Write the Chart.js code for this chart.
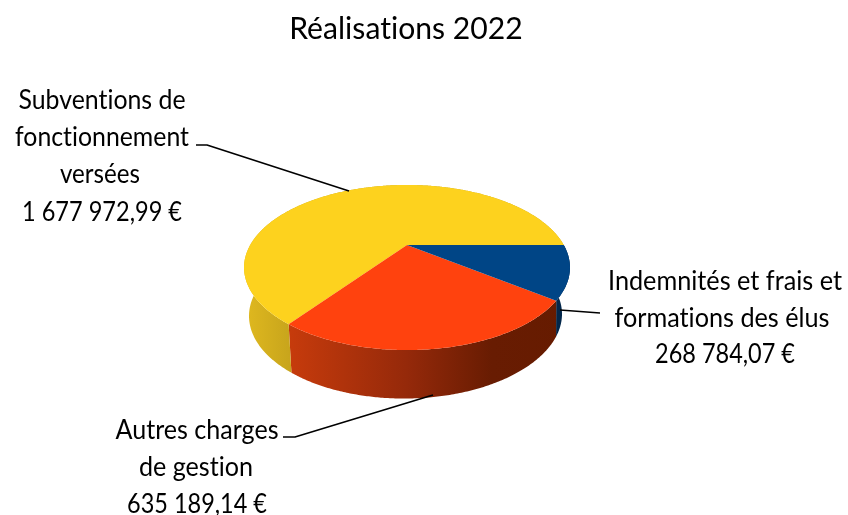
<!DOCTYPE html>
<html lang="fr">
<head>
<meta charset="utf-8">
<title>Réalisations 2022</title>
<script src="https://cdn.jsdelivr.net/npm/chart.js@4"></script>
<style>html,body{margin:0;padding:0;background:#fff}canvas{display:block}</style>
</head>
<body>
<canvas id="c" width="848" height="515"></canvas>
<script>
const titleText = "Réalisations 2022";
const categories = ["Indemnités et frais et formations des élus", "Autres charges de gestion", "Subventions de fonctionnement versées"];
const values = [268784.07, 635189.14, 1677972.99];
const labelLines = [
  ["Indemnités et frais et", "formations des élus", "268 784,07 €"],
  ["Autres charges", "de gestion", "635 189,14 €"],
  ["Subventions de", "fonctionnement", "versées", "1 677 972,99 €"]
];
const topColors = ["#004586", "#ff420e", "#fdd21e"];

// layout only
const labelLayout = [
  [[725, 290, 234], [722, 327, 215], [725, 363, 140]],
  [[197, 439, 163], [196, 476, 114], [197, 513, 140]],
  [[102, 109, 167], [102, 146, 174], [100, 183, 80], [102, 221, 160]]
];
const leaders = [
  [[560, 310], [600, 313]],
  [[283, 437], [295, 437], [433, 395]],
  [[196, 145], [207, 145], [349, 191]]
];
const FONT = 'Lato, "Open Sans", sans-serif';
const P = {ax: 407, ay: 245, A: 156.8, B: 76.4, k: 0.2727, depth: 48.5, sx: 0.951, dx: -3, warp: 0.18, bulge: 4};

function project(angle, bottom) {
  // Chart.js angle: 0 = right, clockwise, y down
  const right = Math.max(0, Math.cos(angle));
  const a = bottom ? angle - P.warp * right : angle;
  const u = Math.cos(a), v = Math.sin(a);
  const d = 1 - P.k * v;
  return [P.ax + (bottom ? P.dx + P.bulge * right * right * right : 0) + (bottom ? P.sx : 1) * P.A * u / d,
          P.ay + P.B * v / d + (bottom ? P.depth : 0)];
}
function wallFill(ctx, i) {
  const g = ctx.createLinearGradient(244, 0, 570, 0);
  if (i === 0) { g.addColorStop(0, "#02274b"); g.addColorStop(1, "#02274b"); }
  if (i === 1) {
    g.addColorStop(0.12, "#c93c0c"); g.addColorStop(0.5, "#95290a");
    g.addColorStop(0.76, "#681c02"); g.addColorStop(1, "#661b00");
  }
  if (i === 2) { g.addColorStop(0, "#e0b91f"); g.addColorStop(0.14, "#c8a51c"); g.addColorStop(1, "#c8a51c"); }
  return g;
}
const pie3d = {
  id: "pie3d",
  beforeDraw(chart) {
    // title sits on layer 0, drawn right after this hook
    const ctx = chart.ctx;
    ctx.save();
    ctx.textRendering = "optimizeSpeed";
    ctx.translate(406, 0);
    ctx.scale(0.972, 1);
    ctx.translate(-424, 0);
  },
  beforeDatasetsDraw(chart) {
    const ctx = chart.ctx, arcs = chart.getDatasetMeta(0).data;
    ctx.restore();
    const STEP = Math.PI / 360;
    ctx.save();
    arcs.forEach((arc, i) => {
      const a0 = arc.startAngle, a1 = arc.endAngle, top = [], bot = [];
      for (let a = a0; a <= a1 + 1e-6; a += STEP) {
        top.push(project(a, false)); bot.push(project(a, true));
      }
      top.push(project(a1, false)); bot.push(project(a1, true));
      ctx.beginPath();
      top.forEach((p, j) => j ? ctx.lineTo(p[0], p[1]) : ctx.moveTo(p[0], p[1]));
      bot.reverse().forEach(p => ctx.lineTo(p[0], p[1]));
      ctx.closePath();
      ctx.fillStyle = wallFill(ctx, i);
      ctx.fill();
    });
    [2, 1, 0].forEach(i => {
      const arc = arcs[i];
      ctx.beginPath();
      ctx.moveTo(P.ax, P.ay);
      for (let a = arc.startAngle; a < arc.endAngle; a += STEP) {
        const p = project(a, false); ctx.lineTo(p[0], p[1]);
      }
      const e = project(arc.endAngle, false); ctx.lineTo(e[0], e[1]);
      ctx.closePath();
      ctx.fillStyle = topColors[i];
      ctx.fill();
    });
    ctx.restore();
    return false;
  },
  afterDraw(chart) {
    const ctx = chart.ctx;
    ctx.save();
    ctx.strokeStyle = "#000"; ctx.lineWidth = 1.6; ctx.lineJoin = "round";
    leaders.forEach(l => {
      ctx.beginPath();
      l.forEach((p, j) => j ? ctx.lineTo(p[0], p[1]) : ctx.moveTo(p[0], p[1]));
      ctx.stroke();
    });
    ctx.fillStyle = "#000"; ctx.textAlign = "center"; ctx.textBaseline = "alphabetic";
    ctx.font = "26px " + FONT;
    ctx.textRendering = "optimizeSpeed";
    labelLines.forEach((lines, i) => lines.forEach((t, j) => {
      const [x, y, w] = labelLayout[i][j];
      const nat = ctx.measureText(t).width;
      ctx.save();
      ctx.translate(x, y);
      ctx.scale(w / nat, 1);
      ctx.fillText(t, 0, 0);
      ctx.restore();
    }));
    ctx.restore();
  }
};
new Chart(document.getElementById("c"), {
  type: "pie",
  data: {labels: categories, datasets: [{data: values, backgroundColor: topColors, borderWidth: 0}]},
  options: {
    responsive: false, animation: false, rotation: 90,
    events: [],
    plugins: {
      legend: {display: false}, tooltip: {enabled: false},
      title: {display: true, text: titleText, color: "#000", align: "center",
        font: {family: FONT, size: 31, weight: "normal"}, padding: {top: 10, bottom: 10}}
    }
  },
  plugins: [pie3d]
});
</script>
</body>
</html>
